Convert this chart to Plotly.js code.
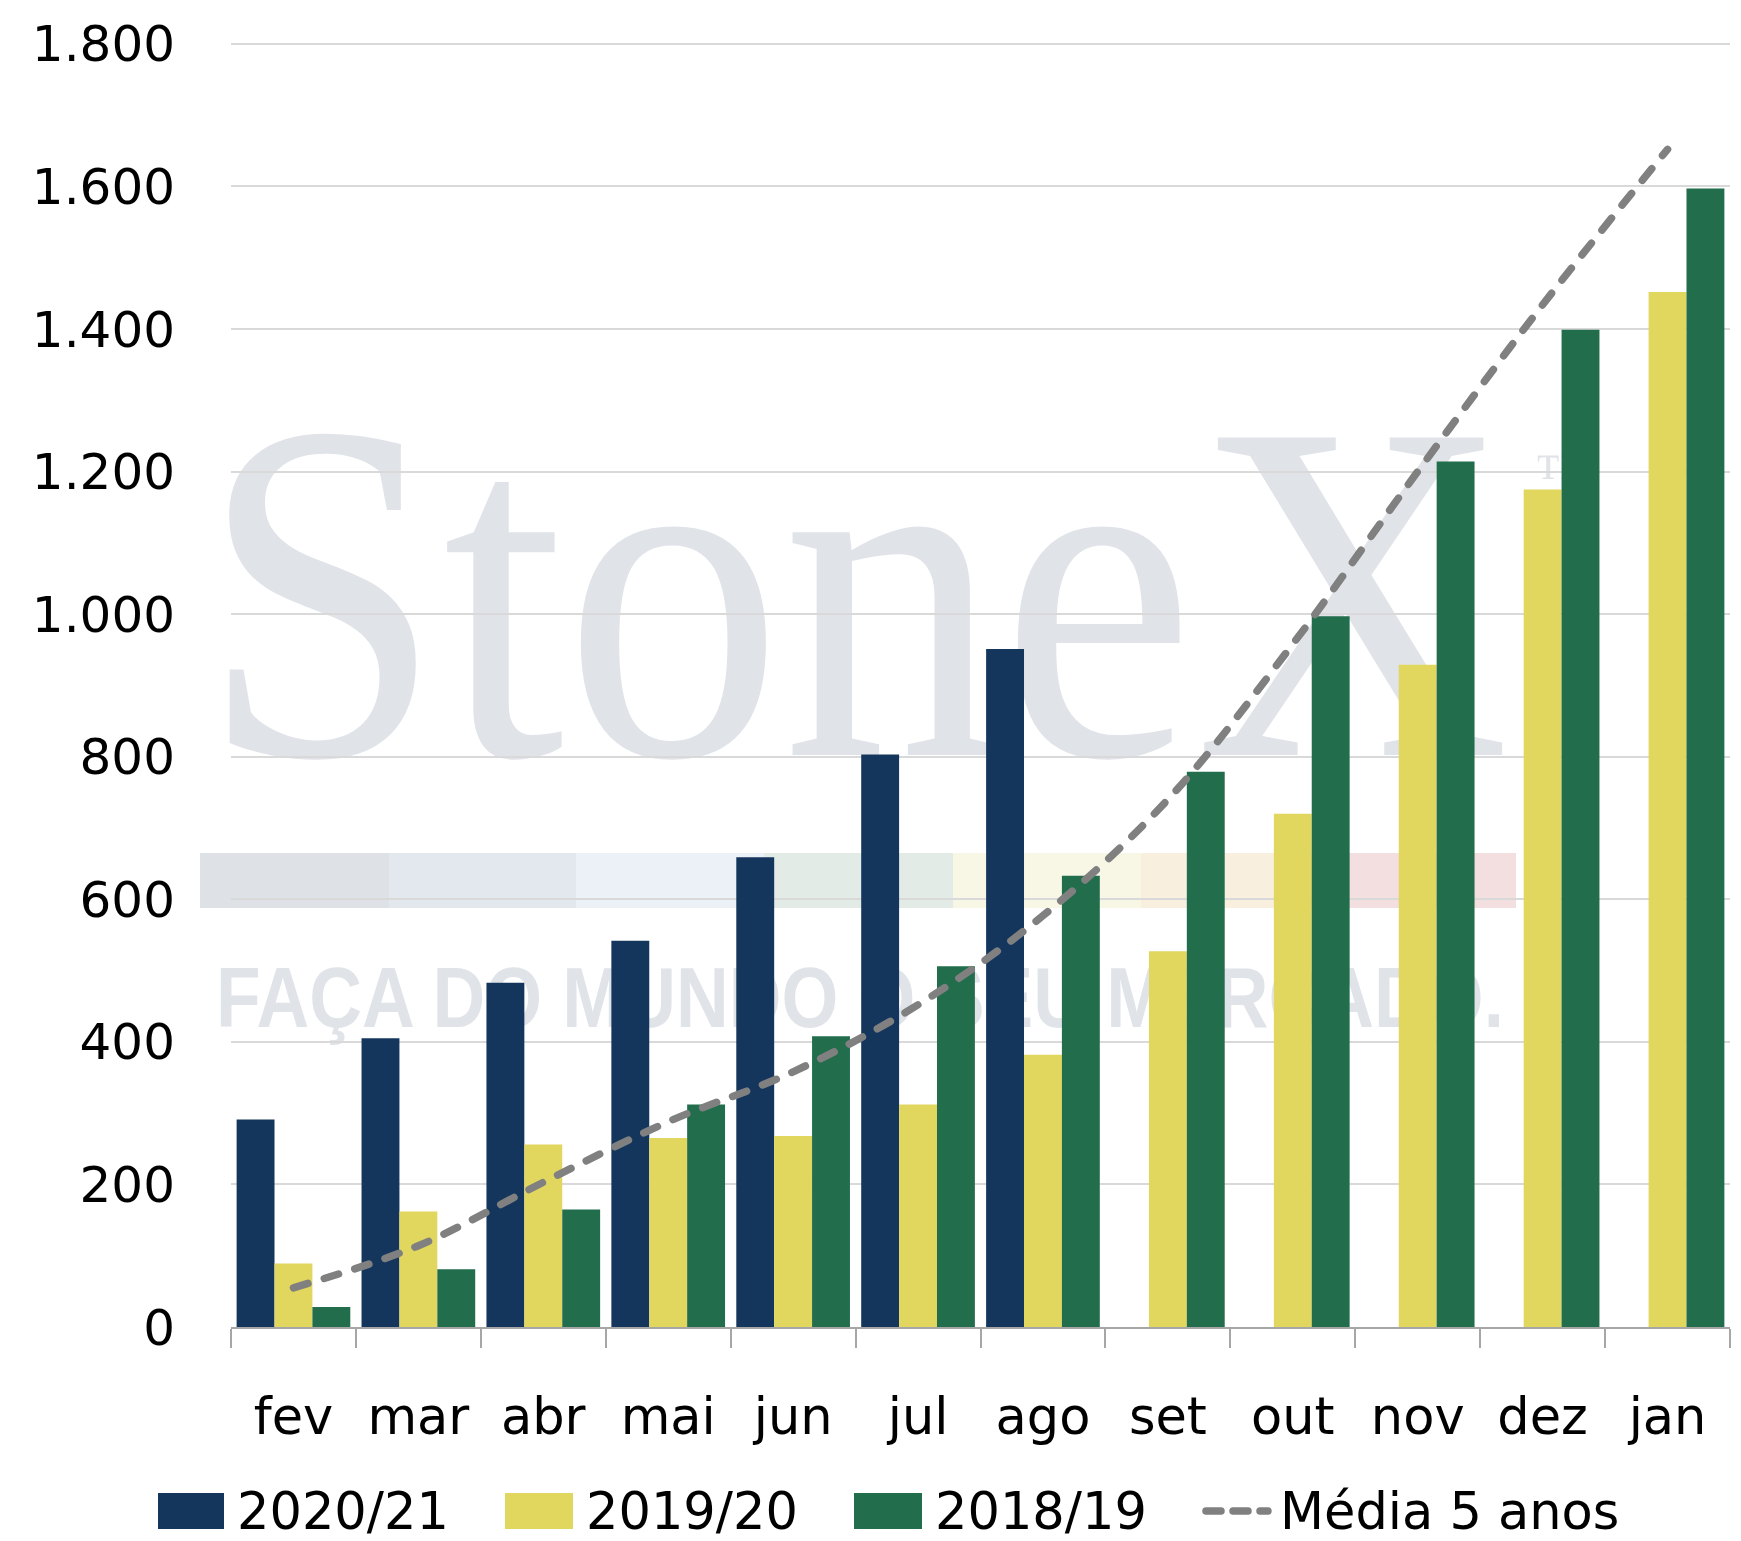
<!DOCTYPE html>
<html>
<head>
<meta charset="utf-8">
<script src="https://cdn.plot.ly/plotly-3.0.1.min.js"></script>
<style>
  html, body { margin: 0; padding: 0; background: #ffffff; }
  #wrap { position: relative; width: 1741px; height: 1541px; }
  #wm { position: absolute; left: 0; top: 0; z-index: 0; }
  #chart { position: absolute; left: 0; top: 0; z-index: 1; }
  #chart .scatterlayer path.js-line { stroke-linecap: round !important; }
  #chart .shapelayer path { stroke-linecap: round !important; }
</style>
</head>
<body>
<div id="wrap">
  <svg id="wm" width="1741" height="1541" xmlns="http://www.w3.org/2000/svg">
    <g transform="translate(200,755) scale(1,1.11)">
      <text x="0" y="0" font-family="Liberation Serif, serif" font-size="437" fill="#E0E4E9" textLength="1310" lengthAdjust="spacingAndGlyphs">StoneX</text>
    </g>
    <text x="1535" y="495" font-family="Liberation Serif, serif" font-size="60" fill="#E0E4E9">™</text>
    <rect x="200" y="853" width="189" height="55" fill="#DEE2E7"/>
    <rect x="389" y="853" width="187" height="55" fill="#E3E8EF"/>
    <rect x="576" y="853" width="188" height="55" fill="#ECF0F7"/>
    <rect x="764" y="853" width="189" height="55" fill="#E2EBE6"/>
    <rect x="953" y="853" width="188" height="55" fill="#F8F7E6"/>
    <rect x="1141" y="853" width="208" height="55" fill="#F9EFDF"/>
    <rect x="1349" y="853" width="167" height="55" fill="#F3DFE0"/>
    <text x="216" y="1027" font-family="Liberation Sans, Arial, sans-serif" font-weight="bold" font-size="85" fill="#E0E4E9" textLength="1288" lengthAdjust="spacingAndGlyphs">FAÇA DO MUNDO O SEU MERCADO.</text>
  </svg>
  <div id="chart"></div>
</div>
<script>
// ---- data ----
const months = ['fev','mar','abr','mai','jun','jul','ago','set','out','nov','dez','jan'];
const s2020_21 = [291, 405, 483, 542, 659, 803, 951, null, null, null, null, null];
const s2019_20 = [89, 162, 256, 265, 268, 312, 382, 527, 720, 929, 1175, 1452];
const s2018_19 = [28, 81, 165, 312, 408, 506, 633, 779, 997, 1214, 1399, 1597];
const media5 = [55, 114, 203, 288, 358, 452, 577, 740, 958, 1200, 1434, 1652];
const seriesNames = ['2020/21', '2019/20', '2018/19', 'Média 5 anos'];
const yTicks = [0, 200, 400, 600, 800, 1000, 1200, 1400, 1600, 1800];

// ---- style ----
const cNavy = '#14365C', cYellow = '#E1D65E', cGreen = '#216D4C', cGray = '#808080';
const FONT = 'DejaVu Sans, sans-serif';
const W = 1741, H = 1541;
const M = {l: 231, r: 11, t: 41, b: 214};
const pw = W - M.l - M.r, ph = H - M.t - M.b;
const px = x => (x - M.l) / pw;
const py = y => (H - M.b - y) / ph;

const traces = [
  {type: 'bar', name: seriesNames[0], x: months, y: s2020_21, marker: {color: cNavy}},
  {type: 'bar', name: seriesNames[1], x: months, y: s2019_20, marker: {color: cYellow}},
  {type: 'bar', name: seriesNames[2], x: months, y: s2018_19, marker: {color: cGreen}},
  {type: 'scatter', mode: 'lines', name: seriesNames[3], x: months, y: media5,
   line: {color: cGray, width: 7.5, dash: '15px,17px', shape: 'spline', smoothing: 1}}
];

// custom legend (large swatches like the reference)
const legY = 1511;
const legItems = [
  {sx0: 158, sx1: 224, tx: 235, color: cNavy, name: seriesNames[0]},
  {sx0: 505, sx1: 573, tx: 584, color: cYellow, name: seriesNames[1]},
  {sx0: 854, sx1: 922, tx: 933, color: cGreen, name: seriesNames[2]}
];
const shapes = legItems.map(it => ({
  type: 'rect', xref: 'paper', yref: 'paper', layer: 'above',
  x0: px(it.sx0), x1: px(it.sx1), y0: py(legY + 18), y1: py(legY - 18),
  fillcolor: it.color, line: {width: 0}
}));
shapes.push({
  type: 'line', xref: 'paper', yref: 'paper', layer: 'above',
  x0: px(1206), x1: px(1268), y0: py(legY), y1: py(legY),
  line: {color: cGray, width: 7.5, dash: '15px,12px'}
});
const annotations = legItems.map(it => ({
  xref: 'paper', yref: 'paper', x: px(it.tx), y: py(legY),
  xanchor: 'left', yanchor: 'middle', showarrow: false,
  text: it.name, font: {family: FONT, size: 51, color: '#000'}
}));
annotations.push({
  xref: 'paper', yref: 'paper', x: px(1278), y: py(legY),
  xanchor: 'left', yanchor: 'middle', showarrow: false,
  text: seriesNames[3], font: {family: FONT, size: 51, color: '#000'}
});

const layout = {
  width: W, height: H,
  margin: M,
  paper_bgcolor: 'rgba(0,0,0,0)',
  plot_bgcolor: 'rgba(0,0,0,0)',
  font: {family: FONT, size: 50, color: '#000'},
  separators: ',.',
  showlegend: false,
  barmode: 'group',
  bargap: 0.09,
  bargroupgap: 0,
  xaxis: {
    type: 'category',
    showline: true, linecolor: '#A6A6A6', linewidth: 2,
    ticks: 'outside', tickson: 'boundaries', ticklen: 19, tickwidth: 2, tickcolor: '#A6A6A6',
    ticklabelstandoff: 44,
    showgrid: false, zeroline: false,
    tickfont: {family: FONT, size: 51, color: '#000'}
  },
  yaxis: {
    range: [0, 1804],
    tickvals: yTicks,
    tickformat: ',d',
    showgrid: true, gridcolor: '#D9D9D9', gridwidth: 2,
    zeroline: false, showline: false, ticks: '',
    ticklabelstandoff: 55,
    tickfont: {family: FONT, size: 50, color: '#000'}
  },
  shapes: shapes,
  annotations: annotations
};

Plotly.newPlot('chart', traces, layout, {displayModeBar: false, staticPlot: true});
</script>
</body>
</html>
